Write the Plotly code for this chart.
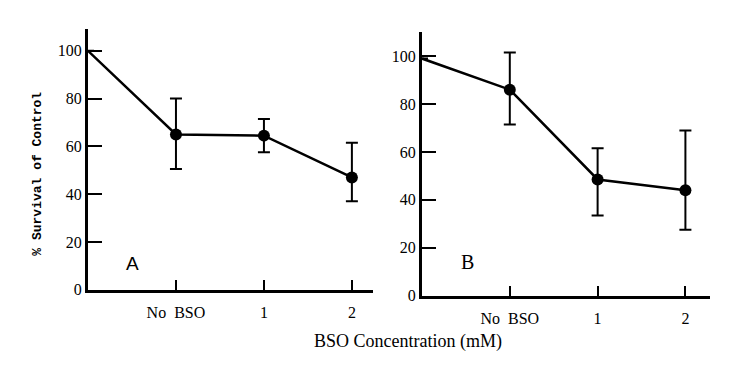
import plotly.graph_objects as go

# x positions: 0 = control (on the y axis), 1 = No BSO, 2 = 1 mM, 3 = 2 mM
x_pos = [0, 1, 2, 3]
tick_vals = [1, 2, 3]
tick_text = ["No\u00a0 BSO", "1", "2"]
y_ticks = [0, 20, 40, 60, 80, 100]

# Panel A
a_y = [100, 65, 64.5, 47]
a_err_plus = [0, 15, 7, 14.5]
a_err_minus = [0, 14.5, 7, 10]

# Panel B
b_y = [99, 86, 48.5, 44]
b_err_plus = [0, 15.5, 13, 25]
b_err_minus = [0, 14.5, 15, 16.5]

marker_sizes = [0, 12, 12, 12]

W, H = 746, 371
fig = go.Figure()

for y, ep, em, xa, ya in [(a_y, a_err_plus, a_err_minus, "x", "y"),
                          (b_y, b_err_plus, b_err_minus, "x2", "y2")]:
    fig.add_trace(go.Scatter(
        x=x_pos, y=y, mode="lines+markers",
        line=dict(color="black", width=2.5),
        marker=dict(color="black", size=marker_sizes, opacity=1,
                    line=dict(width=0, color="black")),
        error_y=dict(type="data", symmetric=False, array=ep, arrayminus=em,
                     color="black", thickness=2, width=6),
        xaxis=xa, yaxis=ya, cliponaxis=False, showlegend=False,
        hoverinfo="skip"))

tickfont = dict(family="Liberation Serif", size=16, color="black")

xcommon = dict(tickmode="array", tickvals=tick_vals, ticktext=tick_text,
               ticks="inside", ticklen=10, tickwidth=1.5, tickcolor="black",
               showline=True, linecolor="black", linewidth=3,
               showgrid=False, zeroline=False, tickfont=tickfont,
               ticklabelstandoff=6)
ycommon = dict(tickmode="array", tickvals=y_ticks,
               ticks="inside", ticklen=14, tickwidth=1.5, tickcolor="black",
               showline=True, linecolor="black", linewidth=3,
               showgrid=False, zeroline=False, tickfont=tickfont)

fig.update_layout(
    width=W, height=H,
    margin=dict(l=0, r=0, t=0, b=0),
    paper_bgcolor="white", plot_bgcolor="white",
    xaxis=dict(domain=[88 / W, 373 / W], range=[0, 3.24], anchor="y", **xcommon),
    yaxis=dict(domain=[1 - 297 / H, 1 - 30 / H], range=[0, 109], anchor="x", **ycommon),
    xaxis2=dict(domain=[422 / W, 710 / W], range=[0, 3.28], anchor="y2", **xcommon),
    yaxis2=dict(domain=[1 - 303 / H, 1 - 33 / H], range=[0, 110], anchor="x2", **ycommon),
    annotations=[
        dict(text="A", x=132 / W, y=1 - 270 / H, xref="paper", yref="paper",
             xanchor="center", yanchor="middle", showarrow=False,
             font=dict(family="Liberation Sans", size=19, color="black")),
        dict(text="B", x=467 / W, y=1 - 269 / H, xref="paper", yref="paper",
             xanchor="center", yanchor="middle", showarrow=False,
             font=dict(family="Liberation Serif", size=20, color="black")),
        dict(text="% Survival of Control", textangle=-90, x=38 / W, y=1 - 178 / H,
             xref="paper", yref="paper", xanchor="center", yanchor="middle",
             showarrow=False,
             font=dict(family="Liberation Mono", size=13, color="black", weight="bold")),
        dict(text="BSO Concentration (mM)", x=408 / W, y=1 - 350 / H,
             xref="paper", yref="paper", xanchor="center", yanchor="middle",
             showarrow=False,
             font=dict(family="Liberation Serif", size=18, color="black")),
    ],
)

fig.write_html("out.html", config={"displayModeBar": False},
               post_script="document.body.style.margin='0';")
